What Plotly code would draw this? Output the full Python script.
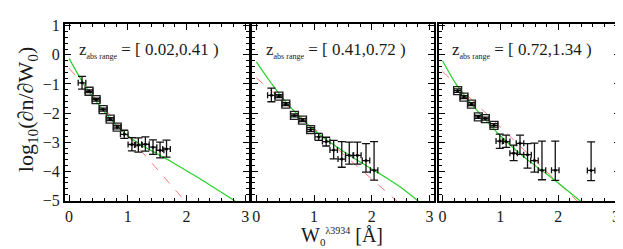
import plotly.graph_objects as go

# ---------------- data ----------------
# panel 1: z_abs in [0.02, 0.41)
w1 = [0.22, 0.34, 0.46, 0.58, 0.70, 0.82, 0.94, 1.07, 1.18, 1.30, 1.43, 1.55, 1.66]
y1 = [-0.96, -1.25, -1.54, -1.88, -2.21, -2.48, -2.73, -3.08, -3.10, -3.07, -3.17, -3.28, -3.23]
up1 = [0.22, 0.05, 0.05, 0.05, 0.05, 0.06, 0.14, 0.24, 0.25, 0.25, 0.25, 0.28, 0.30]
dn1 = [0.22, 0.05, 0.05, 0.05, 0.05, 0.06, 0.14, 0.22, 0.24, 0.24, 0.25, 0.26, 0.28]
sq1 = [0, 1, 1, 1, 1, 1, 0, 0, 0, 0, 0, 0, 0]

# panel 2: z_abs in [0.41, 0.72)
w2 = [0.26, 0.39, 0.51, 0.66, 0.80, 0.94, 1.08, 1.21, 1.34, 1.48, 1.61, 1.75, 1.90, 2.04]
y2 = [-1.39, -1.42, -1.69, -2.08, -2.24, -2.57, -2.82, -2.98, -3.27, -3.58, -3.45, -3.45, -3.63, -3.96]
up2 = [0.25, 0.05, 0.05, 0.05, 0.05, 0.07, 0.12, 0.15, 0.33, 0.60, 0.45, 0.45, 0.58, 0.98]
dn2 = [0.22, 0.05, 0.05, 0.05, 0.05, 0.07, 0.12, 0.15, 0.30, 0.28, 0.30, 0.30, 0.40, 0.34]
sq2 = [0, 1, 1, 1, 1, 1, 0, 0, 0, 0, 0, 0, 0, 0]

# panel 3: z_abs in [0.72, 1.34)
w3 = [0.26, 0.37, 0.50, 0.62, 0.74, 0.89, 0.99, 1.10, 1.23, 1.34, 1.47, 1.59, 1.72, 1.95, 2.57]
y3 = [-1.23, -1.45, -1.69, -2.13, -2.19, -2.42, -2.96, -2.98, -3.38, -3.04, -3.43, -3.63, -3.96, -3.96, -3.97]
up3 = [0.06, 0.05, 0.05, 0.05, 0.05, 0.06, 0.24, 0.22, 0.28, 0.28, 0.38, 0.60, 1.00, 1.00, 0.98]
dn3 = [0.06, 0.05, 0.05, 0.05, 0.05, 0.06, 0.25, 0.20, 0.25, 0.38, 0.46, 0.40, 0.33, 0.35, 0.35]
sq3 = [1, 1, 1, 1, 1, 1, 0, 0, 0, 0, 0, 0, 0, 0, 0]

xerr = 0.065

# fitted curves (green solid)
gx1 = [0, 0.25, 0.5, 0.75, 1.0, 1.25, 1.5, 1.75, 2.0, 2.25, 2.5, 2.85]
gy1 = [-0.12, -1.0, -1.7, -2.3, -2.78, -3.12, -3.4, -3.68, -3.98, -4.28, -4.6, -5.05]
gx2 = [0, 0.25, 0.5, 0.75, 1.0, 1.25, 1.5, 1.75, 2.0, 2.25, 2.5, 2.82]
gy2 = [-0.24, -0.95, -1.6, -2.12, -2.58, -2.97, -3.3, -3.62, -3.92, -4.22, -4.55, -5.05]
gx3 = [0, 0.25, 0.5, 0.75, 1.0, 1.25, 1.5, 1.75, 2.0, 2.4]
gy3 = [-0.2, -1.05, -1.68, -2.25, -2.78, -3.24, -3.65, -4.02, -4.4, -5.05]
# fitted exponentials (red dashed)
rx1 = [0, 2.0]
ry1 = [-0.46, -5.08]
rx2 = [0, 2.45]
ry2 = [-0.79, -5.05]
rx3 = [0, 2.35]
ry3 = [-0.57, -5.06]

zlabels = ["[ 0.02,0.41 )", "[ 0.41,0.72 )", "[ 0.72,1.34 )"]
xticks = [0, 1, 2, 3]
yticks = [1, 0, -1, -2, -3, -4, -5]

# ---------------- figure ----------------
FONT = "Liberation Serif"
TXT = "#1a1a1a"
fig = go.Figure()

panels = [
    (w1, y1, up1, dn1, sq1, gx1, gy1, rx1, ry1),
    (w2, y2, up2, dn2, sq2, gx2, gy2, rx2, ry2),
    (w3, y3, up3, dn3, sq3, gx3, gy3, rx3, ry3),
]
domains = [[0.0, 0.332], [0.3375, 0.664], [0.673, 1.0]]

for i, (w, y, up, dn, sq, gx, gy, rx, ry) in enumerate(panels):
    xa = "x" if i == 0 else f"x{i+1}"
    ya = "y" if i == 0 else f"y{i+1}"
    fig.add_trace(go.Scatter(x=rx, y=ry, mode="lines", xaxis=xa, yaxis=ya,
                             line=dict(color="rgb(255,120,120)", width=1, dash="dash"),
                             showlegend=False, hoverinfo="skip"))
    fig.add_trace(go.Scatter(x=gx, y=gy, mode="lines", xaxis=xa, yaxis=ya,
                             line=dict(color="rgb(40,210,40)", width=1.2, shape="spline"),
                             showlegend=False, hoverinfo="skip"))
    fig.add_trace(go.Scatter(
        x=w, y=y, mode="markers", xaxis=xa, yaxis=ya,
        marker=dict(size=3, color="black"),
        error_y=dict(type="data", symmetric=False, array=up, arrayminus=dn,
                     color="#111", thickness=1.3, width=4),
        error_x=dict(type="constant", value=xerr, color="#111", thickness=1.3, width=3),
        showlegend=False))
    sx = [a for a, s in zip(w, sq) if s]
    sy = [b for b, s in zip(y, sq) if s]
    fig.add_trace(go.Scatter(x=sx, y=sy, mode="markers", xaxis=xa, yaxis=ya,
                             marker=dict(symbol="square-open", size=8, color="#222",
                                         line=dict(width=1.3, color="#222")),
                             showlegend=False))
    fig.add_annotation(text="z<sub><span style='font-size:8px;color:#1a1a1a'>abs range</span></sub> = " + zlabels[i],
                       xref=f"{xa} domain", yref=f"{ya} domain", x=0.065, y=0.853,
                       xanchor="left", yanchor="middle", showarrow=False,
                       font=dict(family=FONT, size=17, color=TXT))

axis_common = dict(showline=True, linecolor="black", linewidth=2, mirror="allticks",
                   ticks="inside", ticklen=6, tickwidth=1.3, tickcolor="black",
                   showgrid=False, zeroline=False,
                   tickfont=dict(family=FONT, size=16, color=TXT))

for i in range(3):
    xkey = "xaxis" if i == 0 else f"xaxis{i+1}"
    ykey = "yaxis" if i == 0 else f"yaxis{i+1}"
    fig.layout[xkey] = dict(axis_common, domain=domains[i], range=[-0.07, 3.07],
                            tickmode="array", tickvals=xticks,
                            ticktext=[str(t) for t in xticks],
                            anchor="y" if i == 0 else f"y{i+1}",
                            minor=dict(ticks="inside", ticklen=3, dtick=0.2,
                                       tickcolor="black", tickwidth=1, showgrid=False))
    fig.layout[ykey] = dict(axis_common, domain=[0, 1], range=[-5.02, 1.06],
                            tickmode="array", tickvals=yticks,
                            showticklabels=(i == 0),
                            anchor="x" if i == 0 else f"x{i+1}",
                            minor=dict(ticks="inside", ticklen=3, dtick=0.2,
                                       tickcolor="black", tickwidth=1, showgrid=False))

fig.add_annotation(text="log<sub>10</sub>(∂n/∂W<sub>0</sub>)", xref="paper", yref="paper",
                   x=-0.068, y=0.52, textangle=-90, showarrow=False,
                   xanchor="center", yanchor="middle",
                   font=dict(family=FONT, size=22, color=TXT))
fig.add_annotation(text="W<sub><span style='font-size:11px'>0</span></sub><sup><span style='font-size:10px'>λ3934</span></sup> [Å]",
                   xref="paper", yref="paper",
                   x=0.499, y=-0.2, showarrow=False, xanchor="center", yanchor="middle",
                   font=dict(family=FONT, size=20, color=TXT))

fig.update_layout(width=623, height=249, margin=dict(l=57, r=9, t=9, b=56),
                  paper_bgcolor="white", plot_bgcolor="white")

fig.write_html("out.html")
